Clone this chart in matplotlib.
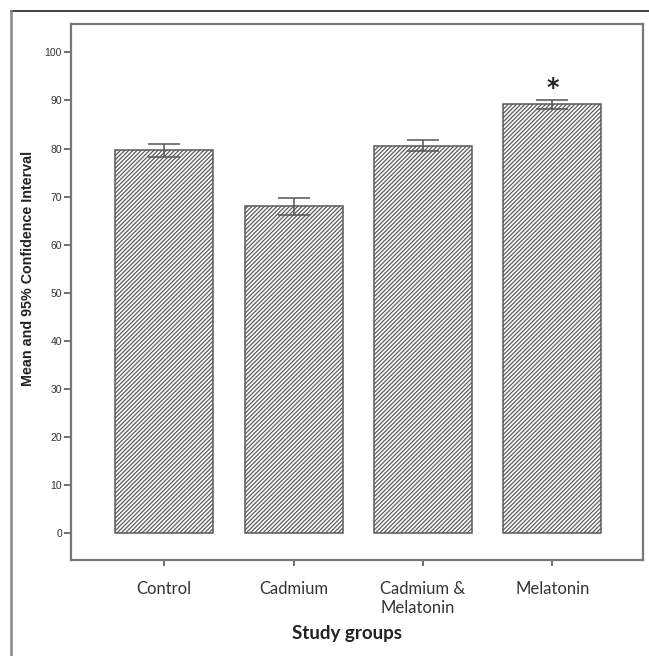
import matplotlib
matplotlib.use("Agg")
import matplotlib.pyplot as plt
from matplotlib.lines import Line2D

categories = ["Control", "Cadmium", "Cadmium &\nMelatonin", "Melatonin"]
means = [79.6, 68.0, 80.6, 89.2]
ci_low = [78.3, 66.2, 79.5, 88.3]
ci_high = [80.9, 69.7, 81.8, 90.1]
yticks = [0, 10, 20, 30, 40, 50, 60, 70, 80, 90, 100]
star_value = 92.6

W, H = 649, 656
plt.rcParams['hatch.linewidth'] = 0.9
plt.rcParams['hatch.color'] = '#555555'
fig = plt.figure(figsize=(W / 100, H / 100), dpi=100)
ax = fig.add_axes([71 / W, 1 - 560.3 / H, (643 - 71) / W, (560.3 - 24) / H])

x = list(range(len(categories)))
err = [[m - lo for m, lo in zip(means, ci_low)], [hi - m for m, hi in zip(means, ci_high)]]
ax.bar(x, means, width=0.757, color='white', edgecolor='#5a5a5a', linewidth=1.1,
       hatch='////////', zorder=2)
ax.errorbar(x, means, yerr=err, fmt='none', ecolor='#555555', elinewidth=1.1,
            capsize=11.5, capthick=1.1, zorder=3)
ax.text(3, star_value, '*', ha='center', va='center', fontsize=17, fontweight='bold',
        color='#222222', family='DejaVu Sans')

ax.set_xlim(-0.72, 3.70)
ax.set_ylim(-5.6, 105.9)
ax.set_yticks(yticks)
ax.set_yticklabels([str(t) for t in yticks], family='Liberation Sans', fontsize=7.5, color='#333333')
ax.set_xticks(x)
ax.set_xticklabels(categories, family='Lato', fontsize=12, color='#333333',
                   ha='center', multialignment='left', va='top')
ax.tick_params(axis='y', length=5, width=1.2, color='#555555', pad=1.5)
ax.tick_params(axis='x', length=4, width=1.2, color='#555555', pad=11)
for s in ax.spines.values():
    s.set_color('#777777')
    s.set_linewidth(1.6)

fig.text(28 / W, 1 - 268 / H, 'Mean and 95% Confidence Interval', rotation=90,
         ha='center', va='center', family='Liberation Sans', fontweight='bold',
         fontsize=10.3, color='#222222')
fig.text(347 / W, 1 - 634 / H, 'Study groups', ha='center', va='center',
         family='Lato', fontweight='bold', fontsize=13.5, color='#222222')

# outer frame
fig.add_artist(Line2D([10.7 / W, 1], [1 - 10.7 / H, 1 - 10.7 / H], transform=fig.transFigure,
                      color='#333333', linewidth=1.3))
fig.add_artist(Line2D([10.7 / W, 10.7 / W], [1 - 10.7 / H, 0], transform=fig.transFigure,
                      color='#888888', linewidth=1.8))

fig.savefig('out.png', dpi=100)
